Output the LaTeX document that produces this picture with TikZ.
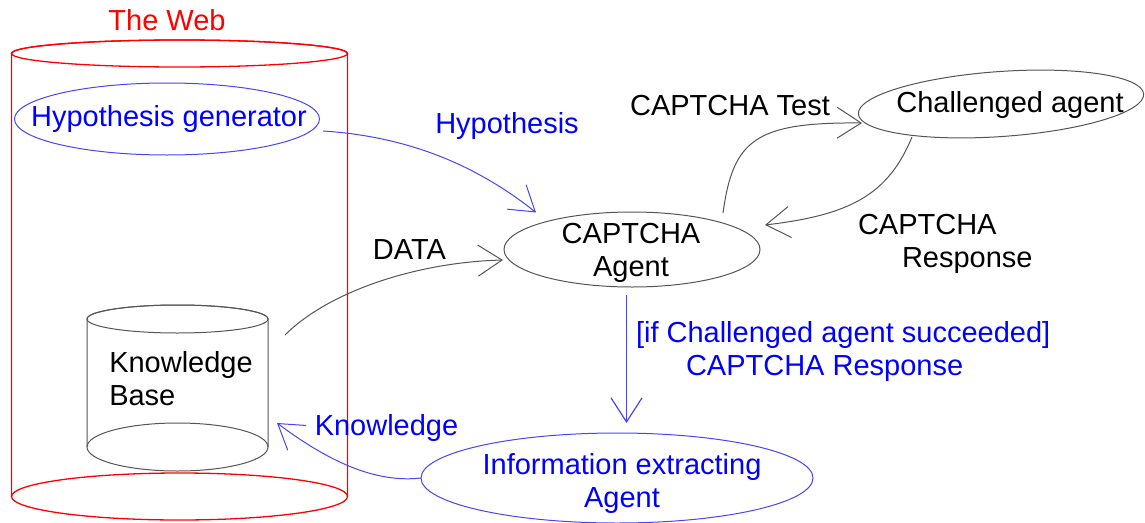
\documentclass[tikz,border=0pt]{standalone}
\usepackage{fontspec}
\setmainfont{Liberation Sans}
\usetikzlibrary{arrows.meta,shapes.geometric,calc}
\definecolor{webred}{RGB}{255,0,0}
\definecolor{txtblue}{RGB}{0,0,255}
\definecolor{lnblue}{RGB}{70,70,245}
\definecolor{lngray}{RGB}{85,85,85}
\begin{document}
\begin{tikzpicture}[x=1pt,y=-1pt,
  txt/.style={font=\fontsize{29}{33}\selectfont, inner sep=0pt, outer sep=0pt},
  bluetxt/.style={txt, text=txtblue},
  oval/.style={ellipse, draw, line width=1pt, inner sep=0pt, outer sep=0pt},
  blueoval/.style={oval, draw=lnblue},
  grayoval/.style={oval, draw=lngray},
  barb/.style={-{Straight Barb[length=24pt,width=31pt]}},
  blueflow/.style={draw=lnblue, line width=1pt, barb},
  grayflow/.style={draw=lngray, line width=1pt, barb},
  webline/.style={draw=webred, line width=1.3pt},
  kbline/.style={draw=lngray, line width=1pt},
]
\fill[white] (0,0) rectangle (1145,522);
\useasboundingbox (0,0) rectangle (1145,522);

% the Web container: sides joined over the back of the top rim, then both rims
\draw[webline] (11.5,496.5) -- (11.5,53.5)
  arc[start angle=180, end angle=0, x radius=168pt, y radius=13.5pt]
  -- (347.5,496.5);
\draw[webline] (179.5,53.5) ellipse [x radius=168pt, y radius=13.5pt];
\draw[webline] (179.5,496.5) ellipse [x radius=168pt, y radius=23.5pt];
\node[txt, text=webred] (web) at (167,20.5) {The Web};

% knowledge base cylinder
\draw[kbline] (87,447) -- (87,319)
  arc[start angle=180, end angle=0, x radius=90.5pt, y radius=14pt]
  -- (268,447);
\draw[kbline] (177.5,319) ellipse [x radius=90.5pt, y radius=14pt];
\draw[kbline] (177.5,447) ellipse [x radius=90.5pt, y radius=24pt];
\node[txt, align=left] (kb) at (181,379) {Knowledge\\Base};

% agents
\node[blueoval, minimum width=305pt, minimum height=72pt] (hg) at (167,119) {};
\node[bluetxt] (hgt) at (169,119.5) {Hypothesis generator};

\node[grayoval, minimum width=256pt, minimum height=75pt] (ca) at (632,249.5) {};
\node[txt, align=center] (cat) at (631,252.5) {CAPTCHA\\Agent};

\node[grayoval, minimum width=286pt, minimum height=65pt, rotate=4] (cha) at (1001,104) {};
\node[txt] (chat) at (1010,105.5) {Challenged agent};

\node[blueoval, minimum width=392pt, minimum height=90pt] (iea) at (617,478) {};
\node[bluetxt, align=center] (ieat) at (622,483) {Information extracting\\Agent};

% connector labels
\node[bluetxt] (lhyp) at (507,125.5) {Hypothesis};
\node[txt] (ldata) at (409.5,250) {DATA};
\node[bluetxt] (lknow) at (386.5,427.5) {Knowledge};
\node[txt] (ltest) at (730,105.5) {CAPTCHA Test};
\node[txt, align=left, anchor=north west] (lresp) at (858,214.5) {CAPTCHA\\\hspace*{44pt}Response};
\node[bluetxt, align=left, anchor=north west] (lcond) at (636,321) {[if Challenged agent succeeded]\\\hspace*{50pt}CAPTCHA Response};

% connectors
\draw[blueflow] ($(hg)+(156,12)$) .. controls (400,136) and (470,160) .. ($(ca)+(-96,-37)$);
\draw[grayflow] ($(kb)+(104,-44)$) .. controls (330,290) and (420,262) .. ($(ca)+(-129,10.5)$);
\draw[blueflow] (iea.west) .. controls (370,484) and (320,455) .. ($(kb)+(96,44)$);
\draw[grayflow] ($(ca)+(91,-36.5)$) .. controls (733,140) and (755,122) .. ($(cha)+(-139,19)$);
\draw[grayflow] ($(cha)+(-89,33)$) .. controls (888,195) and (850,215) .. ($(ca)+(133,-24.5)$);
\draw[blueflow, line width=1.2pt] ($(ca)+(-5.5,45.5)$) .. controls +(0,40) and +(0,-40) .. ($(iea)+(9.5,-55)$);
\end{tikzpicture}
\end{document}
